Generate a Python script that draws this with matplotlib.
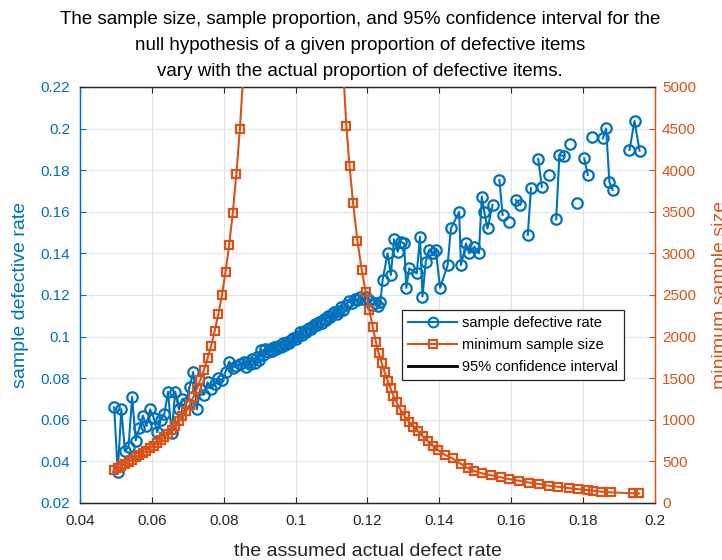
import matplotlib
matplotlib.use('Agg')
import matplotlib.pyplot as plt
import numpy as np
from matplotlib.lines import Line2D
from matplotlib.ticker import FuncFormatter

plt.rcParams['font.family'] = ['Liberation Sans', 'DejaVu Sans']

# ---------------- data ----------------
nan = np.nan
# sample defective rate (blue); NaN entries only break the connecting line
x_rate = [
    0.0495, 0.0505, 0.0515, 0.0525, 0.0535, 0.0545, 0.0555, 0.0565, 0.0575, 0.0585,
    0.0595, 0.0605, 0.0615, 0.0625, 0.0635, 0.0645, 0.0655, 0.0665, 0.0675, 0.0685,
    0.0695, 0.0705, 0.0715, 0.0725, 0.0735, 0.0745, 0.0755, 0.0765, 0.0775, 0.0785,
    0.0795, 0.0805, 0.0815, 0.0825, 0.0835, 0.0845, 0.0855,
    0.0862, 0.0868, 0.0874, 0.0880, 0.0886, 0.0892, 0.0898, 0.0904, 0.0910, 0.0916,
    0.0922, 0.0928, 0.0934, 0.0940, 0.0946, 0.0952, 0.0958, 0.0964, 0.0970, 0.0976,
    0.0982, 0.0988, 0.0994, 0.1000, 0.1006, 0.1012, 0.1018, 0.1024, 0.1030, 0.1036,
    0.1042, 0.1048, 0.1054, 0.1060, 0.1066, 0.1072, 0.1078, 0.1084, 0.1090, 0.1096,
    0.1102, 0.1108, 0.1114, 0.1120, 0.1126, 0.1132,
    0.1140, 0.1148, 0.1156, 0.1164, 0.1172, 0.1180, 0.1188, 0.1196, 0.1204, 0.1212,
    0.1220, 0.1228, 0.1236, 0.1242, 0.1256, 0.1265, 0.1274, 0.1284, 0.1293, 0.1302,
    0.1308, 0.1316, 0.1337, 0.1346, 0.1353, 0.1362, 0.1372, 0.1381, 0.1390, 0.1402,
    0.1423, 0.1432, 0.1455, 0.1460, 0.1474, 0.1483, 0.1497, 0.1510, 0.1518, 0.1525,
    0.1534, 0.1548, nan, 0.1567, 0.1576, nan, 0.1594, nan, 0.1613, 0.1625, nan,
    0.1646, 0.1655, nan, 0.1675, 0.1685, nan, 0.1706, nan, 0.1725, 0.1734, 0.1746, nan,
    0.1764, nan, 0.1783, nan, 0.1803, 0.1813, nan, 0.1825, nan,
    0.1855, 0.1864, 0.1873, 0.1882, nan, 0.1929, 0.1943, 0.1957,
]
rate = [
    0.0660, 0.0350, 0.0650, 0.0450, 0.0470, 0.0710, 0.0500, 0.0560, 0.0620, 0.0570,
    0.0650, 0.0610, 0.0540, 0.0600, 0.0630, 0.0735, 0.0535, 0.0735, 0.0650, 0.0700,
    0.0680, 0.0760, 0.0830, 0.0650, 0.0750, 0.0720, 0.0780, 0.0750, 0.0770, 0.0800,
    0.0790, 0.0830, 0.0880, 0.0850, 0.0860, 0.0870, 0.0880,
    0.0855, 0.0880, 0.0868, 0.0890, 0.0875, 0.0902, 0.0888, 0.0935, 0.0912, 0.0940,
    0.0925, 0.0938, 0.0930, 0.0948, 0.0942, 0.0955, 0.0950, 0.0968, 0.0962, 0.0975,
    0.0970, 0.0985, 0.0995, 0.0990, 0.1005, 0.1020, 0.1010, 0.1028, 0.1022, 0.1040,
    0.1035, 0.1050, 0.1062, 0.1055, 0.1072, 0.1065, 0.1085, 0.1078, 0.1098, 0.1092,
    0.1110, 0.1118, 0.1108, 0.1125, 0.1140, 0.1130,
    0.1150, 0.1172, 0.1160, 0.1180, 0.1175, 0.1190, 0.1182, 0.1192, 0.1178, 0.1150,
    0.1162, 0.1145, 0.1168, 0.1272, 0.1400, 0.1296, 0.1468, 0.1408, 0.1456, 0.1448,
    0.1234, 0.1328, 0.1304, 0.1480, 0.1192, 0.1360, 0.1416, 0.1400, 0.1416, 0.1234,
    0.1344, 0.1520, 0.1600, 0.1344, 0.1448, 0.1400, 0.1432, 0.1400, 0.1673, 0.1600,
    0.1520, 0.1633, nan, 0.1753, 0.1585, nan, 0.1553, nan, 0.1657, 0.1633, nan,
    0.1489, 0.1713, nan, 0.1854, 0.1720, nan, 0.1777, nan, 0.1564, 0.1873, 0.1868, nan,
    0.1925, nan, 0.1644, nan, 0.1857, 0.1777, nan, 0.1961, nan,
    0.1953, 0.2001, 0.1745, 0.1705, nan, 0.1897, 0.2037, 0.1894,
]

# minimum sample size (orange)
x_n = [
    0.0495, 0.0505, 0.0515, 0.0525, 0.0535, 0.0545, 0.0555, 0.0565, 0.0575, 0.0585,
    0.0595, 0.0605, 0.0615, 0.0625, 0.0635, 0.0645, 0.0655, 0.0665, 0.0675, 0.0685,
    0.0695, 0.0705, 0.0715, 0.0725, 0.0735, 0.0745, 0.0755, 0.0765, 0.0775, 0.0785,
    0.0795, 0.0805, 0.0815, 0.0825, 0.0835, 0.0845, 0.0855, 0.0865,
    0.1130, 0.1141, 0.1150, 0.1160, 0.1172, 0.1184, 0.1195, 0.1205, 0.1215, 0.1223,
    0.1231, 0.1240, 0.1248, 0.1256, 0.1264, 0.1272, 0.1281, 0.1292, 0.1303, 0.1316,
    0.1328, 0.1340, 0.1354, 0.1368, 0.1382, 0.1396, 0.1415, 0.1437, 0.1460, 0.1479,
    0.1497, 0.1520, 0.1543, 0.1571, 0.1594, 0.1622, 0.1650, 0.1678, 0.1706, 0.1729,
    0.1762, 0.1785, 0.1813, 0.1827, 0.1850, 0.1878, 0.1940, 0.1956,
]
n_min = [
    400, 420, 445, 470, 495, 520, 550, 575, 600, 630,
    660, 690, 720, 755, 795, 835, 880, 930, 985, 1040,
    1100, 1180, 1270, 1370, 1480, 1600, 1740, 1890, 2070, 2270,
    2500, 2780, 3100, 3480, 3950, 4500, 5200, 6300,
    5400, 4535, 4050, 3600, 3150, 2800, 2540, 2320, 2110, 1940,
    1800, 1680, 1570, 1470, 1380, 1290, 1210, 1120, 1040, 970,
    915, 865, 800, 740, 685, 637, 580, 535, 470, 420,
    385, 355, 335, 308, 287, 267, 246, 228, 207, 196,
    178, 166, 155, 148, 137, 128, 117, 115,
]

x_ticks = [0.04, 0.06, 0.08, 0.10, 0.12, 0.14, 0.16, 0.18, 0.20]
left_ticks = [0.02, 0.04, 0.06, 0.08, 0.10, 0.12, 0.14, 0.16, 0.18, 0.20, 0.22]
right_ticks = [0, 500, 1000, 1500, 2000, 2500, 3000, 3500, 4000, 4500, 5000]

title_lines = [
    "The sample size, sample proportion, and 95% confidence interval for the",
    "null hypothesis of a given proportion of defective items",
    "vary with the actual proportion of defective items.",
]
legend_labels = ["sample defective rate", "minimum sample size", "95% confidence interval"]

# ---------------- styling ----------------
BLUE = '#0072BD'
ORANGE = '#D95319'
DARK = '#262626'

fig = plt.figure(figsize=(7.22, 5.6), dpi=100)
ax = fig.add_axes([80 / 722, 1 - 503 / 560, 575 / 722, 416 / 560])
ax2 = ax.twinx()

ax.plot(x_rate, rate, '-o', color=BLUE, lw=1.5, ms=7.5, mfc='none', mew=1.6, zorder=3)
ax2.plot(x_n, n_min, '-s', color=ORANGE, lw=1.5, ms=6.2, mfc='none', mew=1.6, zorder=3)

ax.set_xlim(0.04, 0.20)
ax.set_ylim(0.02, 0.22)
ax2.set_ylim(0, 5000)

fmt = FuncFormatter(lambda v, p: f'{v:g}')
ax.set_xticks(x_ticks)
ax.xaxis.set_major_formatter(fmt)
ax.set_yticks(left_ticks)
ax.yaxis.set_major_formatter(fmt)
ax2.set_yticks(right_ticks)
ax2.yaxis.set_major_formatter(fmt)

TICK_FS = 11
ax.tick_params(axis='x', direction='in', top=True, length=4, width=0.8,
               colors=DARK, labelsize=TICK_FS, labelcolor=DARK, pad=8)
ax.tick_params(axis='y', direction='in', length=4, width=0.8,
               colors=BLUE, labelsize=TICK_FS, pad=7)
ax2.tick_params(axis='y', direction='in', length=4, width=0.8,
                colors=ORANGE, labelsize=TICK_FS, pad=5)

for a in (ax, ax2):
    a.spines['top'].set_color(DARK)
    a.spines['bottom'].set_color(DARK)
    a.spines['left'].set_color(BLUE)
    a.spines['right'].set_color(ORANGE)
    for s in a.spines.values():
        s.set_linewidth(0.9)

ax.set_axisbelow(True)
ax.xaxis.grid(True, color='#e2e2e2', lw=0.9)
ax.yaxis.grid(True, color='#dce8f3', lw=0.9)

ax.set_xlabel("the assumed actual defect rate", fontsize=14, color=DARK, labelpad=11)
ax.set_ylabel("sample defective rate", fontsize=14, color=BLUE)
ax.yaxis.set_label_coords(-0.088, 0.5)
ax2.set_ylabel("minimum sample size", fontsize=14, color=ORANGE, rotation=90)
ax2.yaxis.set_label_coords(1.1, 0.5)

for i, line in enumerate(title_lines):
    fig.text(360 / 722, 1 - (20 + 26 * i) / 560, line, ha='center', va='center',
             fontsize=13.5, color='black')

handles = [
    Line2D([], [], color=BLUE, marker='o', mfc='none', lw=1.5, mew=1.5, ms=7),
    Line2D([], [], color=ORANGE, marker='s', mfc='none', lw=1.5, mew=1.5, ms=6),
    Line2D([], [], color='black', lw=2),
]
leg = ax2.legend(handles, legend_labels, loc='upper left', bbox_to_anchor=(0.56, 0.464),
                 frameon=True, fancybox=False, edgecolor=DARK, framealpha=1,
                 fontsize=10.5, handlelength=3.4, borderpad=0.4, labelspacing=0.55,
                 handletextpad=0.3, borderaxespad=0)
leg.get_frame().set_linewidth(0.9)

fig.savefig('out.png', dpi=100)
